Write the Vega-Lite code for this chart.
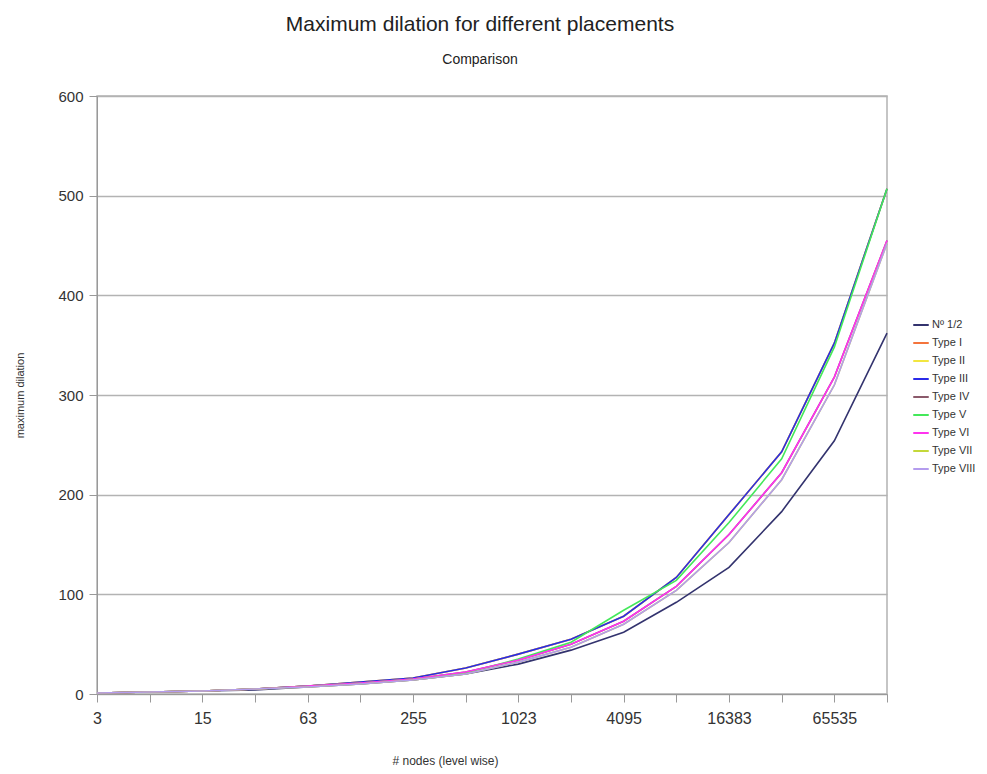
{
  "$schema": "https://vega.github.io/schema/vega-lite/v6.json",
  "width": 790,
  "height": 598,
  "autosize": {"type": "none"},
  "padding": {"left": 97, "top": 96, "right": 100, "bottom": 80},
  "background": "white",
  "config": {"font": "Liberation Sans", "view": {"stroke": "#b3b3b3", "strokeWidth": 1.5}},
  "title": {
    "text": "Maximum dilation for different placements",
    "subtitle": "Comparison",
    "fontSize": 21,
    "fontWeight": "normal",
    "color": "#222222",
    "subtitleFontSize": 14,
    "subtitleColor": "#222222",
    "subtitlePadding": 18,
    "offset": 22,
    "anchor": "middle",
    "dx": -12
  },
  "data": {
    "values": [
      {"n": "3", "Nº 1/2": 1, "Type I": 1, "Type II": 1, "Type III": 1, "Type IV": 1, "Type V": 1, "Type VI": 1, "Type VII": 1, "Type VIII": 1},
      {"n": "7", "Nº 1/2": 2, "Type I": 2, "Type II": 2, "Type III": 2, "Type IV": 2, "Type V": 2, "Type VI": 2, "Type VII": 2, "Type VIII": 2},
      {"n": "15", "Nº 1/2": 3, "Type I": 3, "Type II": 3, "Type III": 3, "Type IV": 3, "Type V": 3, "Type VI": 3, "Type VII": 3, "Type VIII": 3},
      {"n": "31", "Nº 1/2": 4, "Type I": 5, "Type II": 5, "Type III": 5, "Type IV": 5, "Type V": 5, "Type VI": 5, "Type VII": 5, "Type VIII": 5},
      {"n": "63", "Nº 1/2": 7, "Type I": 8, "Type II": 8, "Type III": 8, "Type IV": 8, "Type V": 8, "Type VI": 8, "Type VII": 7, "Type VIII": 7},
      {"n": "127", "Nº 1/2": 10, "Type I": 12, "Type II": 12, "Type III": 12, "Type IV": 11, "Type V": 11, "Type VI": 11, "Type VII": 10, "Type VIII": 10},
      {"n": "255", "Nº 1/2": 14, "Type I": 16, "Type II": 16, "Type III": 16, "Type IV": 15, "Type V": 15, "Type VI": 15, "Type VII": 14, "Type VIII": 14},
      {"n": "511", "Nº 1/2": 20, "Type I": 26, "Type II": 26, "Type III": 26, "Type IV": 22, "Type V": 21, "Type VI": 22, "Type VII": 20, "Type VIII": 20},
      {"n": "1023", "Nº 1/2": 30, "Type I": 40, "Type II": 40, "Type III": 40, "Type IV": 34, "Type V": 35, "Type VI": 34, "Type VII": 32, "Type VIII": 32},
      {"n": "2047", "Nº 1/2": 44, "Type I": 55, "Type II": 55, "Type III": 55, "Type IV": 50, "Type V": 52, "Type VI": 50, "Type VII": 47, "Type VIII": 47},
      {"n": "4095", "Nº 1/2": 62, "Type I": 78, "Type II": 78, "Type III": 78, "Type IV": 73, "Type V": 84, "Type VI": 73, "Type VII": 70, "Type VIII": 70},
      {"n": "8191", "Nº 1/2": 92, "Type I": 117, "Type II": 117, "Type III": 117, "Type IV": 108, "Type V": 114, "Type VI": 108, "Type VII": 104, "Type VIII": 104},
      {"n": "16383", "Nº 1/2": 127, "Type I": 180, "Type II": 180, "Type III": 180, "Type IV": 160, "Type V": 172, "Type VI": 160, "Type VII": 152, "Type VIII": 152},
      {"n": "32767", "Nº 1/2": 183, "Type I": 243, "Type II": 243, "Type III": 243, "Type IV": 222, "Type V": 236, "Type VI": 222, "Type VII": 215, "Type VIII": 215},
      {"n": "65535", "Nº 1/2": 254, "Type I": 352, "Type II": 352, "Type III": 352, "Type IV": 318, "Type V": 348, "Type VI": 318, "Type VII": 310, "Type VIII": 310},
      {"n": "131071", "Nº 1/2": 362, "Type I": 507, "Type II": 507, "Type III": 507, "Type IV": 455, "Type V": 507, "Type VI": 455, "Type VII": 452, "Type VIII": 452}
    ]
  },
  "transform": [
    {"fold": ["Nº 1/2", "Type I", "Type II", "Type III", "Type IV", "Type V", "Type VI", "Type VII", "Type VIII"], "as": ["series", "v"]}
  ],
  "mark": {"type": "line", "strokeWidth": 1.6},
  "encoding": {
    "x": {
      "field": "n",
      "type": "ordinal",
      "scale": {"type": "point", "padding": 0, "domain": ["3", "7", "15", "31", "63", "127", "255", "511", "1023", "2047", "4095", "8191", "16383", "32767", "65535", "131071"]},
      "axis": {
        "title": "# nodes (level wise)",
        "labelAngle": 0,
        "labelOverlap": false,
        "labelExpr": "indexof(['3','15','63','255','1023','4095','16383','65535'], datum.label) >= 0 ? datum.label : ''",
        "tickSize": 8,
        "tickColor": "#999999",
        "domainColor": "#999999",
        "labelFontSize": 16,
        "labelColor": "#333333",
        "labelPadding": 8,
        "titleFontSize": 12,
        "titleFontWeight": "normal",
        "titleColor": "#333333",
        "titlePadding": 29,
        "titleX": 348,
        "grid": false
      }
    },
    "y": {
      "field": "v",
      "type": "quantitative",
      "scale": {"domain": [0, 600]},
      "axis": {
        "title": "maximum dilation",
        "values": [0, 100, 200, 300, 400, 500, 600],
        "tickSize": 8,
        "tickColor": "#999999",
        "domainColor": "#999999",
        "gridColor": "#b3b3b3",
        "gridWidth": 1.5,
        "labelFontSize": 15,
        "labelColor": "#333333",
        "labelPadding": 6,
        "titleFontSize": 11,
        "titleFontWeight": "normal",
        "titleColor": "#333333",
        "titlePadding": 32
      }
    },
    "color": {
      "field": "series",
      "type": "nominal",
      "scale": {
        "domain": ["Nº 1/2", "Type I", "Type II", "Type III", "Type IV", "Type V", "Type VI", "Type VII", "Type VIII"],
        "range": ["#33336e", "#f4743c", "#f2e640", "#2a2ae8", "#8b5a6b", "#44e85a", "#ff33ee", "#c4d83a", "#b49cee"]
      },
      "legend": {
        "title": null,
        "orient": "none",
        "legendX": 815,
        "legendY": 220,
        "symbolType": "stroke",
        "symbolSize": 240,
        "symbolStrokeWidth": 2,
        "labelFontSize": 11,
        "labelColor": "#333333",
        "rowPadding": 4,
        "labelOffset": 2
      }
    }
  }
}
